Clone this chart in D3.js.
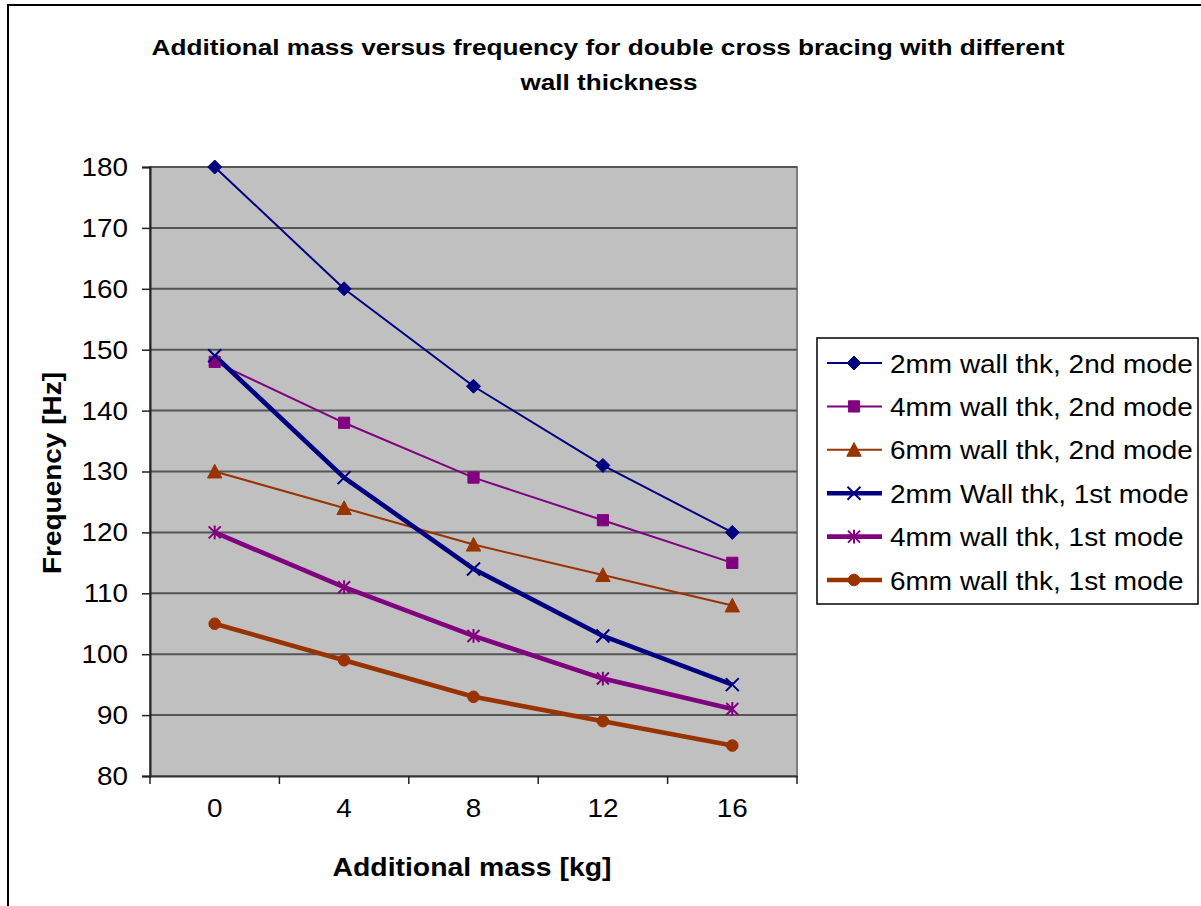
<!DOCTYPE html>
<html>
<head>
<meta charset="utf-8">
<script src="https://cdn.jsdelivr.net/npm/d3@7"></script>
<style>
  html, body { margin: 0; padding: 0; background: #fff; }
  svg { display: block; font-family: "Liberation Sans", Arial, sans-serif; }
</style>
</head>
<body>
<svg id="chart" width="1201" height="906"></svg>
<script>
// ---- data ----
const categories = ["0", "4", "8", "12", "16"];
const yTicks = [80, 90, 100, 110, 120, 130, 140, 150, 160, 170, 180];
const seriesNames = [
  "2mm wall thk, 2nd mode",
  "4mm wall thk, 2nd mode",
  "6mm wall thk, 2nd mode",
  "2mm Wall thk, 1st mode",
  "4mm wall thk, 1st mode",
  "6mm wall thk, 1st mode"
];
const s2mm2nd = [180, 160, 144, 131, 120];
const s4mm2nd = [148, 138, 129, 122, 115];
const s6mm2nd = [130, 124, 118, 113, 108];
const s2mm1st = [149, 129, 114, 103, 95];
const s4mm1st = [120, 111, 103, 96, 91];
const s6mm1st = [105, 99, 93, 89, 85];
const seriesValues = [s2mm2nd, s4mm2nd, s6mm2nd, s2mm1st, s4mm1st, s6mm1st];

// ---- styles ----
const colors = ["#000080", "#800080", "#993300", "#000080", "#800080", "#993300"];
const widths = [2, 2, 2, 4.6, 4.6, 4.6];
const markers = ["diamond", "square", "triangle", "x", "star", "circle"];

const svg = d3.select("#chart");
const plot = { left: 150, right: 797, top: 167, bottom: 776 };

// widen glyphs slightly to match the reference rendering
function widen(sel, f) {
  sel.each(function () {
    const len = this.getComputedTextLength();
    d3.select(this).attr("textLength", len * f).attr("lengthAdjust", "spacingAndGlyphs");
  });
}

// outer chart border (right/bottom off-canvas)
svg.append("rect").attr("x", 8).attr("y", 5).attr("width", 1220).attr("height", 940)
  .attr("fill", "#fff").attr("stroke", "#000").attr("stroke-width", 2);

const x = d3.scaleBand().domain(categories).range([plot.left, plot.right]).padding(0);
const y = d3.scaleLinear().domain([80, 180]).range([plot.bottom, plot.top]);

// plot area
svg.append("rect").attr("x", plot.left).attr("y", plot.top)
  .attr("width", plot.right - plot.left).attr("height", plot.bottom - plot.top)
  .attr("fill", "#c0c0c0").attr("stroke", "#808080").attr("stroke-width", 2);

// gridlines
svg.append("g").selectAll("line").data(yTicks.filter(d => d > 80)).join("line")
  .attr("x1", plot.left).attr("x2", plot.right)
  .attr("y1", d => y(d)).attr("y2", d => y(d))
  .attr("stroke", "#555").attr("stroke-width", 2);

// y axis
const yAxis = svg.append("g").attr("transform", `translate(${plot.left},0)`)
  .call(d3.axisLeft(y).tickValues(yTicks).tickSize(8).tickPadding(14).tickFormat(d3.format("d")));
yAxis.select(".domain").attr("stroke", "#222").attr("stroke-width", 2);
yAxis.selectAll(".tick line").attr("stroke", "#222").attr("stroke-width", 1.5);
yAxis.selectAll(".tick text").attr("font-size", 26.5).attr("fill", "#000")
  .attr("font-family", "'Liberation Sans', Arial, sans-serif");
widen(yAxis.selectAll(".tick text"), 1.05);

// x axis
const xAxis = svg.append("g").attr("transform", `translate(0,${plot.bottom})`)
  .call(d3.axisBottom(x).tickSize(0).tickPadding(22));
xAxis.select(".domain").attr("stroke", "#333").attr("stroke-width", 2);
xAxis.selectAll(".tick text").attr("font-size", 26.5).attr("fill", "#000")
  .attr("font-family", "'Liberation Sans', Arial, sans-serif");
widen(xAxis.selectAll(".tick text"), 1.05);
// tick marks at category boundaries
const bounds = categories.map(c => x(c)).concat([x(categories[categories.length - 1]) + x.bandwidth()]);
svg.append("g").selectAll("line").data(bounds).join("line")
  .attr("x1", d => d).attr("x2", d => d)
  .attr("y1", plot.bottom).attr("y2", plot.bottom + 8)
  .attr("stroke", "#222").attr("stroke-width", 1.5);

// symbol path generator
function markerPath(type, s) {
  switch (type) {
    case "diamond": return `M0,${-s}L${s},0L0,${s}L${-s},0Z`;
    case "square": return `M${-s},${-s}H${s}V${s}H${-s}Z`;
    case "triangle": return `M0,${-s}L${s},${s * 0.9}L${-s},${s * 0.9}Z`;
    case "x": return `M${-s},${-s}L${s},${s}M${-s},${s}L${s},${-s}`;
    case "star": return `M${-s},${-s}L${s},${s}M${-s},${s}L${s},${-s}M0,${-s * 1.15}V${s * 1.15}`;
    case "circle": return `M${s},0A${s},${s} 0 1,1 ${-s},0A${s},${s} 0 1,1 ${s},0Z`;
  }
}
const markerSize = { diamond: 7, square: 5.6, triangle: 7.2, x: 6.5, star: 6, circle: 5.8 };
function drawMarker(g, type, color) {
  const p = g.append("path").attr("d", markerPath(type, markerSize[type]));
  if (type === "x" || type === "star") {
    p.attr("fill", "none").attr("stroke", color).attr("stroke-width", 2);
  } else {
    p.attr("fill", color).attr("stroke", color).attr("stroke-width", 1);
  }
}

// series
const line = d3.line().x((d, i) => x(categories[i]) + x.bandwidth() / 2).y(d => y(d));
const seriesG = svg.append("g");
seriesValues.forEach((vals, k) => {
  seriesG.append("path").datum(vals).attr("d", line)
    .attr("fill", "none").attr("stroke", colors[k]).attr("stroke-width", widths[k])
    .attr("stroke-linejoin", "round");
});
seriesValues.forEach((vals, k) => {
  vals.forEach((v, i) => {
    const g = seriesG.append("g")
      .attr("transform", `translate(${x(categories[i]) + x.bandwidth() / 2},${y(v)})`);
    drawMarker(g, markers[k], colors[k]);
  });
});

// title
const title = svg.append("g").attr("font-weight", "bold").attr("fill", "#000")
  .attr("text-anchor", "middle").attr("font-size", 22);
title.append("text").attr("x", 608).attr("y", 55)
  .attr("textLength", 913).attr("lengthAdjust", "spacingAndGlyphs")
  .text("Additional mass versus frequency for double cross bracing with different");
title.append("text").attr("x", 609).attr("y", 90)
  .attr("textLength", 177).attr("lengthAdjust", "spacingAndGlyphs")
  .text("wall thickness");

// axis titles
svg.append("text").attr("x", 472).attr("y", 876).attr("text-anchor", "middle")
  .attr("font-weight", "bold").attr("font-size", 25)
  .attr("textLength", 279).attr("lengthAdjust", "spacingAndGlyphs")
  .text("Additional mass [kg]");
svg.append("text").attr("transform", "translate(61,473) rotate(-90)").attr("text-anchor", "middle")
  .attr("font-weight", "bold").attr("font-size", 25)
  .attr("textLength", 202).attr("lengthAdjust", "spacingAndGlyphs")
  .text("Frequency [Hz]");

// legend
const legend = svg.append("g");
legend.append("rect").attr("x", 817).attr("y", 338).attr("width", 381).attr("height", 266)
  .attr("fill", "#fff").attr("stroke", "#000").attr("stroke-width", 1.5);
seriesNames.forEach((name, k) => {
  const ly = 363 + k * 43.4;
  legend.append("line").attr("x1", 827).attr("x2", 882).attr("y1", ly).attr("y2", ly)
    .attr("stroke", colors[k]).attr("stroke-width", widths[k]);
  const g = legend.append("g").attr("transform", `translate(854,${ly})`);
  drawMarker(g, markers[k], colors[k]);
  const t = legend.append("text").attr("x", 890).attr("y", ly + 9.5).attr("font-size", 26)
    .attr("fill", "#000").text(name);
  widen(t, 1.075);
});
</script>
</body>
</html>
